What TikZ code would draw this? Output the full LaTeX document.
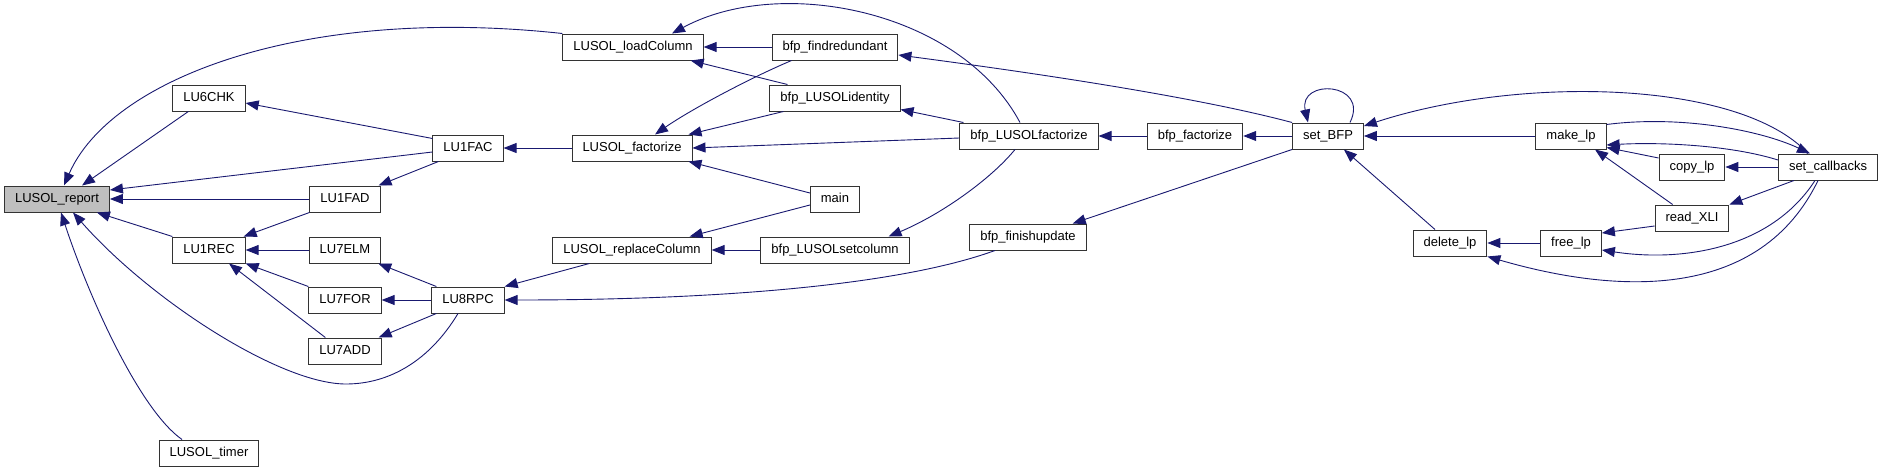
\documentclass[tikz,border=0pt]{standalone}
\usepackage{fontspec}
\setmainfont{Liberation Sans}
\usetikzlibrary{arrows.meta}
\definecolor{navy}{RGB}{25,25,112}
\begin{document}
\begin{tikzpicture}[x=1pt,y=-1pt,
  fn/.style={draw=black!80,line width=1pt,fill=white,font=\fontsize{13}{15}\selectfont,
    minimum height=26pt,inner xsep=10.5pt,inner ysep=0pt,text height=9.5pt,text depth=2.5pt},
  call/.style={navy,line width=0.9pt,-{Triangle[length=13pt,width=10pt]}}]
  \useasboundingbox (0,0) rectangle (1885,471);
  \node[fn,fill=black!25] (report) at (57,199) {LUSOL\_report};
  \node[fn] (chk) at (209,98) {LU6CHK};
  \node[fn] (lufac) at (468,148) {LU1FAC};
  \node[fn] (lufad) at (345,199) {LU1FAD};
  \node[fn] (lurec) at (209,250) {LU1REC};
  \node[fn] (luelm) at (345,250) {LU7ELM};
  \node[fn] (lufor) at (345,300) {LU7FOR};
  \node[fn] (luadd) at (345,351) {LU7ADD};
  \node[fn] (lurpc) at (468,300) {LU8RPC};
  \node[fn] (timer) at (209,453) {LUSOL\_timer};
  \node[fn] (loadcol) at (633,47) {LUSOL\_loadColumn};
  \node[fn] (lfact) at (632,148) {LUSOL\_factorize};
  \node[fn] (replcol) at (632,250) {LUSOL\_replaceColumn};
  \node[fn] (findred) at (835,47) {bfp\_findredundant};
  \node[fn] (identity) at (835,98) {bfp\_LUSOLidentity};
  \node[fn] (main) at (835,199) {main};
  \node[fn] (setcol) at (835,250) {bfp\_LUSOLsetcolumn};
  \node[fn] (bfpfact) at (1029,136) {bfp\_LUSOLfactorize};
  \node[fn] (finish) at (1028,237) {bfp\_finishupdate};
  \node[fn] (bfpfz) at (1195,136) {bfp\_factorize};
  \node[fn] (setbfp) at (1328,136) {set\_BFP};
  \node[fn] (deletelp) at (1450,243) {delete\_lp};
  \node[fn] (makelp) at (1571,136) {make\_lp};
  \node[fn] (freelp) at (1571,243) {free\_lp};
  \node[fn] (copylp) at (1692,167) {copy\_lp};
  \node[fn] (readxli) at (1692,218) {read\_XLI};
  \node[fn] (setcb) at (1828,167) {set\_callbacks};

  \draw[call] (loadcol.north west) .. controls (300,5) and (110,80) .. ([xshift=7]report.north);
  \draw[call] ([xshift=16]chk.south west) -- ([xshift=25]report.north);
  \draw[call] ([yshift=-4]lufac.west) -- ([yshift=9]report.east);
  \draw[call] (lufad) -- (report);
  \draw[call] (lurec.north west) -- ([xshift=-13]report.south east);
  \draw[call] ([xshift=-10]lurpc.south) .. controls (430,360) and (390,384) .. (346,384)
    .. controls (280,384) and (150,300) .. ([xshift=16]report.south);
  \draw[call] ([xshift=-27]timer.north) .. controls (140,410) and (90,300) .. ([xshift=4]report.south);
  \draw[call] ([yshift=-4]lufac.north west) -- ([yshift=-5]chk.east);
  \draw[call] ([xshift=6]lufac.south west) -- ([xshift=-2]lufad.north east);
  \draw[call] (lufad.south west) -- ([xshift=-2]lurec.north east);
  \draw[call] (luelm) -- (lurec);
  \draw[call] (lufor.north west) -- (lurec.south east);
  \draw[call] ([xshift=17]luadd.north west) -- ([xshift=20]lurec.south);
  \draw[call] ([xshift=5]lurpc.north west) -- ([xshift=-3]luelm.south east);
  \draw[call] (lurpc) -- (lufor);
  \draw[call] ([xshift=5]lurpc.south west) -- ([xshift=-3]luadd.north east);

  \draw[call] (lfact) -- (lufac);
  \draw[call] ([xshift=20]findred.south west) .. controls (750,78) and (690,110) .. ([xshift=23]lfact.north);
  \draw[call] ([xshift=14]identity.south west) -- ([xshift=-4]lfact.north east);
  \draw[call] ([yshift=-2]bfpfact.west) -- (lfact.east);
  \draw[call] ([yshift=6]main.west) -- ([xshift=-4]lfact.south east);
  \draw[call] (findred) -- (loadcol);
  \draw[call] ([xshift=18]identity.north west) -- ([xshift=-13]loadcol.south east);
  \draw[call] ([xshift=-9]bfpfact.north) .. controls (960,10) and (780,-25) .. ([xshift=39]loadcol.north);
  \draw[call] (setbfp.north west) .. controls (1200,98) and (1050,75) .. ([yshift=-8]findred.east);
  \draw[call] ([xshift=4]bfpfact.north west) -- ([yshift=2]identity.south east);
  \draw[call] (bfpfz) -- (bfpfact);
  \draw[call] ([xshift=-14]bfpfact.south) .. controls (990,180) and (940,215) .. ([xshift=-21]setcol.north east);
  \draw[call] ([yshift=-6]main.west) -- ([xshift=-22]replcol.north east);
  \draw[call] (setcol) -- (replcol);
  \draw[call] ([xshift=37]replcol.south west) -- (lurpc.north east);
  \draw[call] ([xshift=-33]finish.south) .. controls (900,285) and (720,300) .. (lurpc.east);

  \draw[call] (setbfp) -- (bfpfz);
  \draw[call] (setbfp.south west) -- ([xshift=-14]finish.north east);
  \draw[call] ([xshift=22]setbfp.north) .. controls (1370,82) and (1298,78) .. ([xshift=-20]setbfp.north);
  \draw[call] (makelp) -- (setbfp);
  \draw[call] ([xshift=-20]setcb.north) .. controls (1740,80) and (1520,75) .. ([yshift=10]setbfp.east);
  \draw[call] ([xshift=-15]deletelp.north) -- ([xshift=-20]setbfp.south east);
  \draw[call] ([yshift=-2]makelp.north east) .. controls (1680,115) and (1760,130) .. ([xshift=-18]setcb.north);
  \draw[call] ([yshift=7]setcb.west) .. controls (1730,145) and (1660,142) .. ([yshift=-9]makelp.east);
  \draw[call] ([yshift=9]copylp.west) -- ([yshift=2]makelp.south east);
  \draw[call] ([xshift=18]readxli.north west) -- ([xshift=24]makelp.south);
  \draw[call] (setcb) -- (copylp);
  \draw[call] ([xshift=16]setcb.south west) -- (readxli.north east);
  \draw[call] ([yshift=-8]readxli.west) -- ([yshift=10]freelp.east);
  \draw[call] ([xshift=-13]setcb.south) .. controls (1770,250) and (1680,262) .. ([yshift=-7]freelp.east);
  \draw[call] ([xshift=-10]setcb.south) .. controls (1760,300) and (1620,295) .. (deletelp.south east);
  \draw[call] (freelp) -- (deletelp);
\end{tikzpicture}
\end{document}
